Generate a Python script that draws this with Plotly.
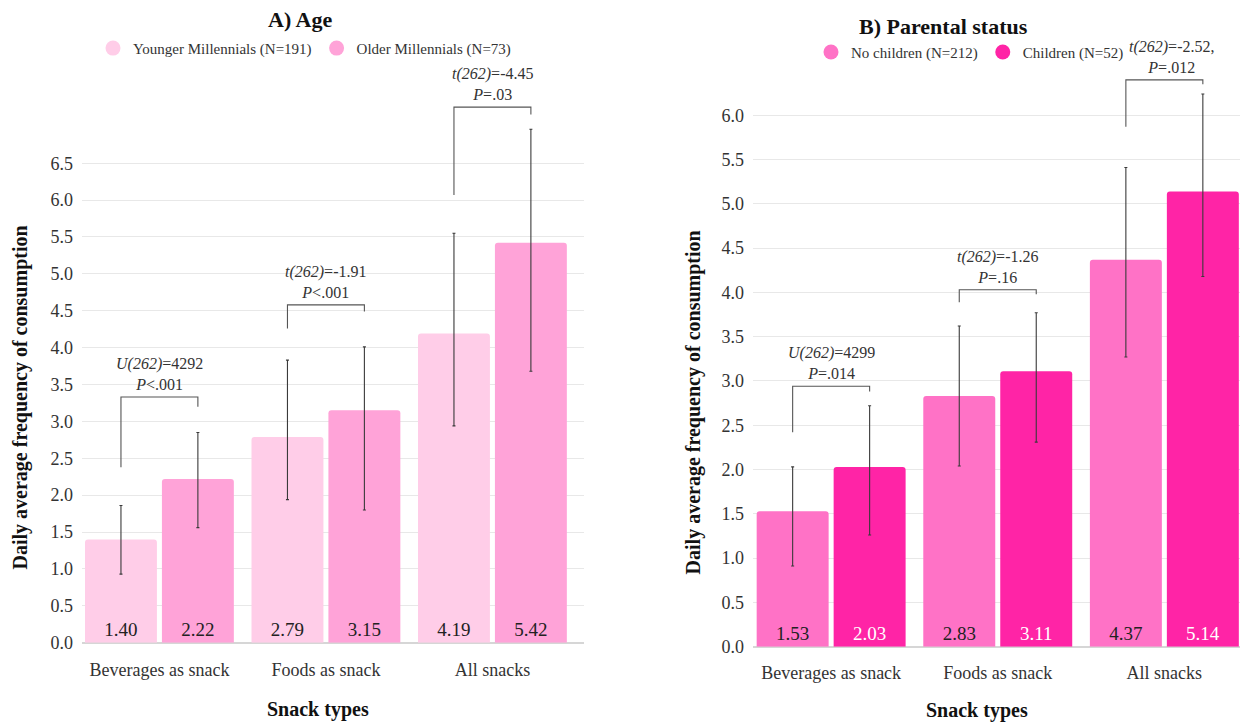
import plotly.graph_objects as go

categories = ["Beverages as snack", "Foods as snack", "All snacks"]

# Panel A: age groups
age_names = ["Younger Millennials (N=191)", "Older Millennials (N=73)"]
younger_mean = [1.40, 2.79, 4.19]
younger_err_plus = [0.46, 1.04, 1.36]
younger_err_minus = [0.47, 0.85, 1.25]
older_mean = [2.22, 3.15, 5.42]
older_err_plus = [0.63, 0.86, 1.54]
older_err_minus = [0.66, 1.35, 1.74]
age_tests = [
    "<i>U(262)</i>=4292<br><i>P</i>&lt;.001",
    "<i>t(262)</i>=-1.91<br><i>P</i>&lt;.001",
    "<i>t(262)</i>=-4.45<br><i>P</i>=.03",
]
age_ticks = [0.0, 0.5, 1.0, 1.5, 2.0, 2.5, 3.0, 3.5, 4.0, 4.5, 5.0, 5.5, 6.0, 6.5]

# Panel B: parental status
parent_names = ["No children (N=212)", "Children (N=52)"]
nochild_mean = [1.53, 2.83, 4.37]
nochild_err_plus = [0.50, 0.79, 1.04]
nochild_err_minus = [0.62, 0.79, 1.10]
child_mean = [2.03, 3.11, 5.14]
child_err_plus = [0.69, 0.66, 1.10]
child_err_minus = [0.77, 0.80, 0.96]
parent_tests = [
    "<i>U(262)</i>=4299<br><i>P</i>=.014",
    "<i>t(262)</i>=-1.26<br><i>P</i>=.16",
    "<i>t(262)</i>=-2.52,<br><i>P</i>=.012",
]
parent_ticks = [0.0, 0.5, 1.0, 1.5, 2.0, 2.5, 3.0, 3.5, 4.0, 4.5, 5.0, 5.5, 6.0]

# significance brackets: (bar height, left leg end, right leg end)
age_brackets = [(3.33, 2.38, 3.20), (4.58, 4.26, 4.49), (7.26, 6.07, 7.16)]
parent_brackets = [(2.94, 2.42, 2.88), (4.03, 3.89, 3.98), (6.40, 5.87, 6.35)]
# horizontal nudge (px) of each test label
age_label_shift = [0, 0, 0]
parent_label_shift = [0, 0, 7]

FONT = "Liberation Serif"
BARGAP = 0.076
GROUPGAP = 0.065
OFFSET = (1 - BARGAP) / 4  # centre of each bar relative to its category

COLORS = {
    "young": "#FFCDE8",
    "old": "#FFA3D8",
    "nochild": "#FF72C6",
    "child": "#FF24A6",
}

fig = go.Figure()


def add_bars(name, means, eplus, eminus, color, txtcolor, xa, ya, offsetgroup):
    fig.add_trace(go.Bar(
        x=categories, y=means, name=name, showlegend=False,
        marker=dict(color=color, cornerradius=3, line=dict(width=0)),
        offsetgroup=offsetgroup,
        text=[f"{v:.2f}" for v in means],
        textposition="inside", insidetextanchor="start", textangle=0,
        constraintext="none",
        insidetextfont=dict(family=FONT, size=19, color=txtcolor),
        error_y=dict(type="data", symmetric=False, array=eplus, arrayminus=eminus,
                     color="#3a3a3a", thickness=1.1, width=1.5),
        xaxis=xa, yaxis=ya,
    ))


add_bars(age_names[0], younger_mean, younger_err_plus, younger_err_minus,
         COLORS["young"], "#222222", "x", "y", "a1")
add_bars(age_names[1], older_mean, older_err_plus, older_err_minus,
         COLORS["old"], "#222222", "x", "y", "a2")
add_bars(parent_names[0], nochild_mean, nochild_err_plus, nochild_err_minus,
         COLORS["nochild"], "#222222", "x2", "y2", "b1")
add_bars(parent_names[1], child_mean, child_err_plus, child_err_minus,
         COLORS["child"], "#FFFFFF", "x2", "y2", "b2")

# circular legend markers for each panel
for name, key, leg in [(age_names[0], "young", "legend"), (age_names[1], "old", "legend"),
                       (parent_names[0], "nochild", "legend2"), (parent_names[1], "child", "legend2")]:
    fig.add_trace(go.Scatter(
        x=[None], y=[None], mode="markers", name=name, legend=leg,
        marker=dict(symbol="circle", size=15, color=COLORS[key]),
        xaxis="x" if leg == "legend" else "x2", yaxis="y" if leg == "legend" else "y2",
    ))

annotations = []
shapes = []


def add_tests(tests, brackets, shifts, xref, yref):
    for i, (label, (top, left_end, right_end), dx) in enumerate(zip(tests, brackets, shifts)):
        xl, xr = i - OFFSET, i + OFFSET
        shapes.append(dict(
            type="path", xref=xref, yref=yref,
            path=f"M {xl} {left_end} L {xl} {top} L {xr} {top} L {xr} {right_end}",
            line=dict(color="#555555", width=1.1),
        ))
        annotations.append(dict(
            x=i, y=top, xref=xref, yref=yref, text=label, showarrow=False,
            yanchor="bottom", yshift=2, xshift=dx, align="center",
            font=dict(family=FONT, size=16, color="#333333"),
        ))


add_tests(age_tests, age_brackets, age_label_shift, "x", "y")
add_tests(parent_tests, parent_brackets, parent_label_shift, "x2", "y2")

# titles and axis titles
title_font = dict(family=FONT, size=22, color="#111111")
axis_font = dict(family=FONT, size=20, color="#111111")
annotations += [
    dict(text="<b>A) Age</b>", x=300 / 1240, y=1 - 20 / 726, xref="paper", yref="paper",
         showarrow=False, font=title_font, xanchor="center", yanchor="middle"),
    dict(text="<b>B) Parental status</b>", x=943 / 1240, y=1 - 27 / 726, xref="paper", yref="paper",
         showarrow=False, font=title_font, xanchor="center", yanchor="middle"),
    dict(text="<b>Daily average frequency of consumption</b>", x=20 / 1240, y=1 - 403 / 726,
         xref="paper", yref="paper", showarrow=False, textangle=-90, font=axis_font,
         xanchor="center", yanchor="middle"),
    dict(text="<b>Daily average frequency of consumption</b>", x=693 / 1240, y=1 - 408 / 726,
         xref="paper", yref="paper", showarrow=False, textangle=-90, font=axis_font,
         xanchor="center", yanchor="middle"),
    dict(text="<b>Snack types</b>", x=318 / 1240, y=1 - 719 / 726, xref="paper", yref="paper",
         showarrow=False, font=axis_font, xanchor="center", yanchor="middle"),
    dict(text="<b>Snack types</b>", x=977 / 1240, y=1 - 720 / 726, xref="paper", yref="paper",
         showarrow=False, font=axis_font, xanchor="center", yanchor="middle"),
]

tick_font = dict(family=FONT, size=18, color="#333333")
common_x = dict(showgrid=False, showline=False, ticks="", tickfont=tick_font)
common_y = dict(showgrid=True, gridcolor="#e8e8e8", gridwidth=1, zeroline=True,
                zerolinecolor="#d6d6d6", zerolinewidth=1.5, showline=False, ticks="",
                tickfont=tick_font, tickformat=".1f", ticklabelstandoff=8)

legend_font = dict(family=FONT, size=15, color="#333333")

fig.update_layout(
    width=1240, height=726,
    margin=dict(l=0, r=0, t=0, b=0),
    paper_bgcolor="white", plot_bgcolor="white",
    barmode="group", bargap=BARGAP, bargroupgap=GROUPGAP,
    xaxis=dict(domain=[82 / 1240, 584 / 1240], range=[-0.465, 2.55], anchor="y",
               ticklabelstandoff=14, **common_x),
    yaxis=dict(domain=[1 - 651.7 / 726, 1 - 94.4 / 726], range=[0, 7.45], anchor="x",
               tickvals=age_ticks, **common_y),
    xaxis2=dict(domain=[753 / 1240, 1.0], range=[-0.469, 2.454], anchor="y2",
                ticklabelstandoff=13, **common_x),
    yaxis2=dict(domain=[1 - 655.7 / 726, 1 - 63 / 726], range=[0, 6.6], anchor="x2",
                tickvals=parent_ticks, **common_y),
    legend=dict(orientation="h", x=93 / 1240, y=1 - 49 / 726, xanchor="left", yanchor="middle",
                font=legend_font, itemwidth=30, bgcolor="rgba(0,0,0,0)"),
    legend2=dict(orientation="h", x=811 / 1240, y=1 - 53 / 726, xanchor="left", yanchor="middle",
                 font=legend_font, itemwidth=30, bgcolor="rgba(0,0,0,0)"),
    annotations=annotations,
    shapes=shapes,
)

fig.write_html("out.html")
